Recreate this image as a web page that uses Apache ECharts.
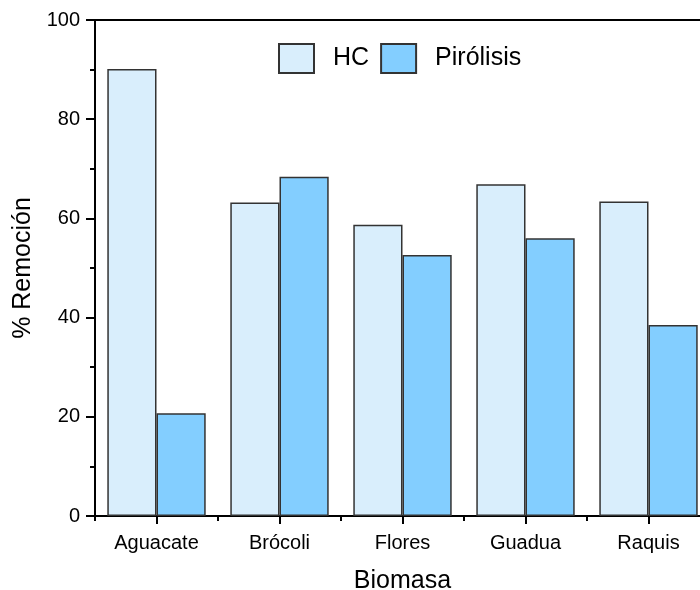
<!DOCTYPE html>
<html>
<head>
<meta charset="utf-8">
<script src="https://cdn.jsdelivr.net/npm/echarts@6/dist/echarts.min.js"></script>
<style>html,body{margin:0;padding:0;background:#fff}#c{width:700px;height:590px}</style>
</head>
<body>
<div id="c"></div>
<script>
const categories = ['Aguacate', 'Brócoli', 'Flores', 'Guadua', 'Raquis'];
const hcValues = [90.1, 63.2, 58.7, 66.9, 63.4];
const pirolisisValues = [20.7, 68.4, 52.6, 56.0, 38.5];
const yTicks = [0, 20, 40, 60, 80, 100];

const FONT = 'Liberation Sans';
const chart = echarts.init(document.getElementById('c'));
chart.setOption({
  backgroundColor: '#fff',
  animation: false,
  textStyle: { fontFamily: FONT, color: '#000' },
  legend: {
    left: 278, top: 43, padding: 0,
    icon: 'rect',
    itemWidth: 35, itemHeight: 29, itemGap: 11,
    textStyle: { fontFamily: FONT, fontSize: 25, color: '#000', padding: [0, 0, 0, 14] },
    data: ['HC', 'Pirólisis']
  },
  grid: { left: 95, top: 20, width: 615, height: 496, containLabel: false, outerBoundsMode: 'none' },
  xAxis: [
    {
      type: 'category', data: categories, position: 'bottom',
      name: 'Biomasa', nameLocation: 'middle', nameGap: 53,
      nameTextStyle: { fontFamily: FONT, fontSize: 25, color: '#000' },
      axisLine: { show: true, lineStyle: { color: '#000', width: 2 } },
      axisTick: { show: true, alignWithLabel: true, length: 8, lineStyle: { color: '#000', width: 2 } },
      axisLabel: { fontFamily: FONT, fontSize: 20, color: '#000', margin: 17 },
      splitLine: { show: false }
    },
    {
      type: 'category', data: categories, position: 'bottom', offset: 0,
      axisLine: { show: false },
      axisTick: { show: true, length: 5, lineStyle: { color: '#000', width: 2 } },
      axisLabel: { show: false },
      splitLine: { show: false }
    },
    {
      type: 'category', data: categories, position: 'top',
      axisLine: { show: true, lineStyle: { color: '#000', width: 2 } },
      axisTick: { show: false },
      axisLabel: { show: false },
      splitLine: { show: false }
    }
  ],
  yAxis: {
    type: 'value', min: yTicks[0], max: yTicks[yTicks.length - 1], interval: 20,
    name: '% Remoción', nameLocation: 'middle', nameGap: 57, nameRotate: 90,
    nameTextStyle: { fontFamily: FONT, fontSize: 25, color: '#000' },
    axisLine: { show: true, lineStyle: { color: '#000', width: 2 } },
    axisTick: { show: true, length: 9, lineStyle: { color: '#000', width: 2 } },
    minorTick: { show: true, splitNumber: 2, length: 5, lineStyle: { color: '#000', width: 2 } },
    axisLabel: { fontFamily: FONT, fontSize: 20, color: '#000', margin: 15 },
    splitLine: { show: false },
    minorSplitLine: { show: false }
  },
  series: [
    {
      name: 'HC', type: 'bar', data: hcValues, xAxisIndex: 0,
      barGap: '0%', barCategoryGap: '20%',
      itemStyle: { color: '#D9EEFC', borderColor: '#333', borderWidth: 1.5 }
    },
    {
      name: 'Pirólisis', type: 'bar', data: pirolisisValues, xAxisIndex: 0,
      barGap: '0%', barCategoryGap: '20%',
      itemStyle: { color: '#83CEFF', borderColor: '#333', borderWidth: 1.5 }
    }
  ]
});
</script>
</body>
</html>
